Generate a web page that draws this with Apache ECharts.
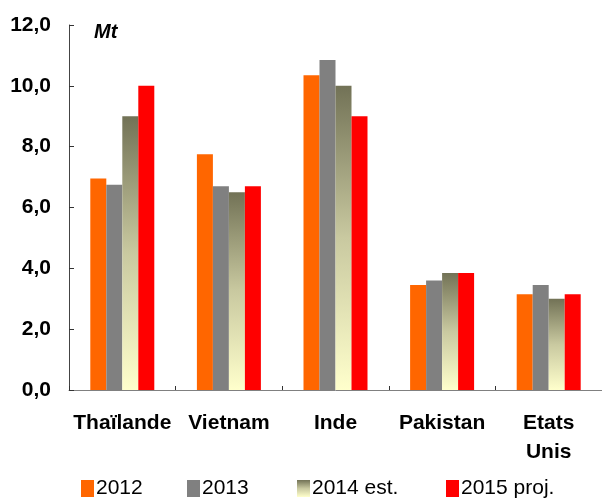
<!DOCTYPE html>
<html>
<head>
<meta charset="utf-8">
<script src="https://cdn.jsdelivr.net/npm/echarts@6/dist/echarts.min.js"></script>
<style>
html,body{margin:0;padding:0;background:#fff;}
#chart{width:602px;height:499px;}
</style>
</head>
<body>
<div id="chart"></div>
<script>
var pays = ['Thaïlande', 'Vietnam', 'Inde', 'Pakistan', 'Etats\nUnis'];
var annees = ['2012', '2013', '2014 est.', '2015 proj.'];
var v2012 = [6.95, 7.75, 10.35, 3.45, 3.15];
var v2013 = [6.75, 6.7, 10.85, 3.6, 3.45];
var v2014 = [9.0, 6.5, 10.0, 3.85, 3.0];
var v2015 = [10.0, 6.7, 9.0, 3.85, 3.15];
var yTicks = [0, 2, 4, 6, 8, 10, 12];

var police = '"Liberation Sans", Arial, sans-serif';
//degrade du haut (olive) vers le bas (jaune pale)
var degrade = new echarts.graphic.LinearGradient(0, 0, 0, 1, [
	{offset: 0, color: '#727256'},
	{offset: 0.5, color: '#c9c9a0'},
	{offset: 1, color: '#ffffcc'}
]);

//une legende par annee, placee comme dans l'original
var legendX = [76, 182, 292, 441];
var legendes = [];
for (var i = 0; i < annees.length; i++) {
	legendes.push({
		data: [annees[i]],
		icon: 'rect',
		left: legendX[i],
		top: 473,
		itemWidth: 13,
		itemHeight: 17,
		selectedMode: false,
		textStyle: {fontFamily: police, fontSize: 21, color: '#000', padding: [0, 0, 0, -3]}
	});
}

var charts = echarts.init(document.getElementById('chart'));
var option = {
	animation: false,
	title: {
		text: 'Mt',
		left: 89,
		top: 17,
		textStyle: {fontFamily: police, fontSize: 20, fontWeight: 'bold', fontStyle: 'italic', color: '#000'}
	},
	legend: legendes,
	grid: {
		left: 69,
		top: 25,
		width: 545,
		height: 365,
		containLabel: false
	},
	xAxis: {
		type: 'category',
		data: pays,
		axisLine: {lineStyle: {color: '#808080', width: 1}},
		axisTick: {show: true, inside: true, length: 4, lineStyle: {color: '#333'}},
		axisLabel: {
			fontFamily: police, fontSize: 21, fontWeight: 'bold', color: '#000',
			margin: 19, lineHeight: 29, interval: 0
		}
	},
	yAxis: {
		type: 'value',
		min: yTicks[0],
		max: yTicks[yTicks.length - 1],
		interval: 2,
		splitLine: {show: false},
		axisLine: {show: true, lineStyle: {color: '#444', width: 1}},
		axisTick: {show: true, inside: true, length: 5, lineStyle: {color: '#333'}},
		axisLabel: {
			fontFamily: police, fontSize: 21, fontWeight: 'bold', color: '#000', margin: 18,
			formatter: function(v){ return v.toFixed(1).replace('.', ','); }
		}
	},
	series: [
		{name: annees[0], type: 'bar', data: v2012, barWidth: 16, barGap: '0%', itemStyle: {color: '#ff6600'}},
		{name: annees[1], type: 'bar', data: v2013, barWidth: 16, barGap: '0%', itemStyle: {color: '#808080'}},
		{name: annees[2], type: 'bar', data: v2014, barWidth: 16, barGap: '0%', itemStyle: {color: degrade}},
		{name: annees[3], type: 'bar', data: v2015, barWidth: 16, barGap: '0%', itemStyle: {color: '#ff0000'}}
	]
};
charts.setOption(option);
</script>
</body>
</html>
